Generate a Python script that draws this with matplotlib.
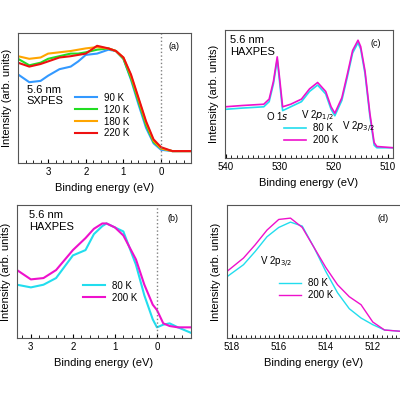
import numpy as np
import matplotlib.pyplot as plt
from matplotlib.ticker import MultipleLocator

plt.rcParams['font.family'] = ['Liberation Sans', 'DejaVu Sans']
plt.rcParams['font.size'] = 7

# panel (a) SXPES valence band
e_a = [3.8, 3.5, 3.2, 3.0, 2.7, 2.4, 2.2, 2.0, 1.7, 1.4, 1.2, 1.0, 0.8, 0.6, 0.4, 0.2, 0.0, -0.3, -0.8]
a_90 = [0.68, 0.62, 0.63, 0.67, 0.72, 0.74, 0.78, 0.83, 0.84, 0.87, 0.86, 0.80, 0.64, 0.45, 0.27, 0.15, 0.10, 0.09, 0.09]
a_120 = [0.80, 0.75, 0.77, 0.80, 0.82, 0.84, 0.84, 0.85, 0.87, 0.88, 0.86, 0.80, 0.65, 0.47, 0.29, 0.16, 0.11, 0.09, 0.09]
a_180 = [0.82, 0.80, 0.81, 0.84, 0.85, 0.86, 0.87, 0.88, 0.89, 0.88, 0.86, 0.81, 0.67, 0.49, 0.31, 0.17, 0.11, 0.09, 0.09]
a_220 = [0.77, 0.74, 0.76, 0.78, 0.81, 0.82, 0.83, 0.84, 0.90, 0.88, 0.86, 0.81, 0.68, 0.50, 0.32, 0.18, 0.12, 0.09, 0.09]

# panel (b) HAXPES valence band
e_b = [3.33, 3.0, 2.7, 2.4, 2.0, 1.7, 1.5, 1.3, 1.2, 1.0, 0.8, 0.5, 0.3, 0.1, 0.0, -0.15, -0.3, -0.5, -0.8]
b_80 = [0.40, 0.38, 0.40, 0.45, 0.62, 0.66, 0.78, 0.84, 0.86, 0.83, 0.80, 0.55, 0.32, 0.14, 0.08, 0.10, 0.11, 0.08, 0.04]
b_200 = [0.51, 0.44, 0.45, 0.51, 0.66, 0.75, 0.82, 0.86, 0.86, 0.83, 0.77, 0.59, 0.40, 0.25, 0.21, 0.11, 0.09, 0.08, 0.08]

# panel (c) HAXPES wide
e_c = [540.2, 537, 533, 532, 531.2, 530.5, 530.0, 529.5, 528, 526, 524.5, 523, 521.5, 520.5, 519.8, 518.5, 517.5, 516.5, 515.5, 515.0, 514.2, 513.3, 512.5, 512, 509]
c_200 = [0.40, 0.41, 0.42, 0.46, 0.60, 0.79, 0.60, 0.40, 0.42, 0.46, 0.54, 0.59, 0.52, 0.40, 0.35, 0.47, 0.65, 0.84, 0.92, 0.87, 0.68, 0.35, 0.12, 0.09, 0.08]
c_80 = [0.38, 0.39, 0.40, 0.44, 0.58, 0.77, 0.57, 0.37, 0.40, 0.44, 0.52, 0.57, 0.50, 0.38, 0.33, 0.45, 0.63, 0.82, 0.90, 0.85, 0.66, 0.33, 0.10, 0.08, 0.08]

# panel (d) V 2p3/2 zoom
e_d = [518.2, 517.5, 517.0, 516.5, 516.0, 515.5, 515.0, 514.5, 514.0, 513.5, 513.0, 512.5, 512.0, 511.5, 510.8]
d_200 = [0.50, 0.60, 0.70, 0.81, 0.89, 0.90, 0.83, 0.68, 0.53, 0.40, 0.31, 0.25, 0.12, 0.06, 0.05]
d_80 = [0.46, 0.55, 0.65, 0.76, 0.83, 0.87, 0.84, 0.68, 0.50, 0.34, 0.22, 0.15, 0.10, 0.06, 0.05]

fig = plt.figure(figsize=(4, 4), dpi=100)

def style(ax, xlim, major, minor):
	ax.set_xlim(*xlim)
	ax.set_ylim(0, 1)
	ax.set_yticks([])
	ax.xaxis.set_major_locator(MultipleLocator(major))
	ax.xaxis.set_minor_locator(MultipleLocator(minor))
	ax.tick_params(axis='x', which='both', direction='in', top=False, length=3, pad=3, labelsize=7)
	ax.tick_params(axis='x', which='minor', length=2)
	for s in ax.spines.values():
		s.set_color('#555555')
	ax.set_xlabel('Binding energy (eV)', fontsize=8)
	ax.set_ylabel('Intensity (arb. units)', fontsize=8)

ax = fig.add_axes([0.045, 0.593, 0.433, 0.325])
ax.plot(e_a, a_90, color='#3399ff', lw=1.5, label='90 K')
ax.plot(e_a, a_120, color='#22dd22', lw=1.5, label='120 K')
ax.plot(e_a, a_180, color='#ffa500', lw=1.5, label='180 K')
ax.plot(e_a, a_220, color='#ee1111', lw=1.5, label='220 K')
ax.axvline(0, color='gray', ls=':', lw=1)
style(ax, (3.8, -0.8), 1, 0.2)
ax.text(0.93, 0.93, '(a)', transform=ax.transAxes, ha='right', va='top', fontsize=6.5)
ax.text(0.05, 0.6, '5.6 nm\nSXPES', transform=ax.transAxes, va='top', fontsize=8)
ax.legend(loc='lower left', bbox_to_anchor=(0.28, 0.12), frameon=False, fontsize=7, handlelength=2.2, labelspacing=0.2)

ax = fig.add_axes([0.5625, 0.605, 0.42, 0.32])
ax.plot(e_c, c_80, color='#22ddee', lw=1.2, label='80 K')
ax.plot(e_c, c_200, color='#ee11cc', lw=1.2, label='200 K')
style(ax, (540.2, 509), 10, 1)
ax.text(0.93, 0.93, '(c)', transform=ax.transAxes, ha='right', va='top', fontsize=6.5)
ax.text(0.03, 0.96, '5.6 nm\nHAXPES', transform=ax.transAxes, va='top', fontsize=8)
ax.text(530.5, 0.30, 'O 1$s$', ha='center', fontsize=7)
ax.text(523, 0.30, 'V 2$p_{1/2}$', ha='center', fontsize=7)
ax.text(515.5, 0.22, 'V 2$p_{3/2}$', ha='center', fontsize=7)
ax.legend(loc='lower left', bbox_to_anchor=(0.3, 0.03), frameon=False, fontsize=7, handlelength=2.2, labelspacing=0.2)

ax = fig.add_axes([0.0425, 0.155, 0.435, 0.333])
ax.plot(e_b, b_80, color='#22ddee', lw=1.5, label='80 K')
ax.plot(e_b, b_200, color='#ee11cc', lw=1.5, label='200 K')
ax.axvline(0, color='gray', ls=':', lw=1)
style(ax, (3.33, -0.81), 1, 0.2)
ax.text(0.93, 0.93, '(b)', transform=ax.transAxes, ha='right', va='top', fontsize=6.5)
ax.text(0.07, 0.96, '5.6 nm\nHAXPES', transform=ax.transAxes, va='top', fontsize=8)
ax.legend(loc='lower left', bbox_to_anchor=(0.33, 0.2), frameon=False, fontsize=7, handlelength=2.2, labelspacing=0.2)

ax = fig.add_axes([0.5675, 0.155, 0.435, 0.333])
ax.plot(e_d, d_80, color='#22ddee', lw=1, label='80 K')
ax.plot(e_d, d_200, color='#ee11cc', lw=1, label='200 K')
style(ax, (518.2, 510.8), 2, 0.2)
ax.text(0.93, 0.93, '(d)', transform=ax.transAxes, ha='right', va='top', fontsize=6.5)
ax.text(516.8, 0.55, 'V 2p$_{3/2}$', fontsize=7)
ax.legend(loc='lower left', bbox_to_anchor=(0.25, 0.22), frameon=False, fontsize=7, handlelength=2.2, labelspacing=0.2)

fig.savefig('out.png', dpi=100)
